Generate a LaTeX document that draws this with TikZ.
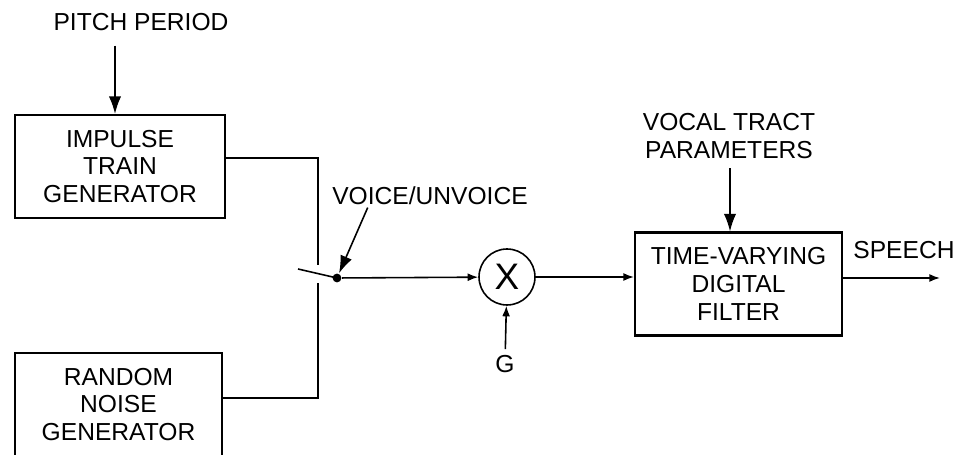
\documentclass[tikz,border=0pt]{standalone}
\usepackage{fontspec}
\setmainfont{Liberation Sans}
\usetikzlibrary{arrows.meta}

\begin{document}
\begin{tikzpicture}[x=0.02cm, y=-0.02cm, line width=0.9pt,
    font=\fontsize{14}{15.9}\selectfont]
        \tikzstyle{blk} = [draw, line width=1.2pt, align=center, inner sep=0pt, minimum width=4.14cm, minimum height=2.06cm]
        \tikzstyle{lbl} = [align=center, inner sep=1pt]
        \tikzstyle{big} = [-{Latex[length=10pt, width=7pt]}]
        \tikzstyle{small} = [-{Latex[length=6pt, width=4.5pt]}]

        \useasboundingbox (0,0) rectangle (957,455);
        \clip (0,0) rectangle (957,455);

        % sources
        \node (pitch) [lbl, inner ysep=8pt] at (141,22) {PITCH PERIOD};
        \node (imp) [blk, minimum width=4.2cm] at (120,166.5) {IMPULSE\\TRAIN\\GENERATOR};
        \node (rnd) [blk] at (118.5,404.5) {RANDOM\\NOISE\\GENERATOR};

        % switch
        \coordinate (swtop) at (318,265);
        \coordinate (swbot) at (318,283);
        \coordinate (lever) at (298,269);
        \node (pole) [circle, fill, inner sep=0pt, minimum size=5pt] at (337,278) {};
        \node (voice) [lbl] at (430,196) {VOICE/UNVOICE};

        % gain and filter
        \node (mult) [circle, draw, inner sep=0pt, minimum size=1.12cm, font=\fontsize{21}{21}\selectfont] at (507,277) {X};
        \node (gain) [lbl, inner sep=3pt] at (505,364) {G};
        \node (filt) [blk] at (738.5,284) {TIME-VARYING\\DIGITAL\\FILTER};
        \node (vtp) [lbl, inner sep=5pt] at (729,136) {VOCAL TRACT\\PARAMETERS};
        \node (speech) [lbl] at (904,250) {SPEECH};
        \coordinate (out) at (940,278);

        \draw [big] ([xshift=-0.1cm]imp.north |- pitch.south) -- ([xshift=-0.1cm]imp.north);
        \draw ([yshift=0.17cm]imp.east) -| (swtop);
        \draw ([yshift=0.13cm]rnd.east) -| (swbot);
        \draw (lever) -- (pole.center);
        \draw [big] ([xshift=0.76cm]voice.south west) -- (pole);
        \draw [small] (pole) -- (mult);
        \draw [small] (gain) -- (mult);
        \draw [small] (mult) -- (mult -| filt.west);
        \draw [big] (vtp.south -| 730,0) -- (filt.north -| 730,0);
        \draw [small] (filt.east |- out) -- (out);

    \end{tikzpicture}
\end{document}
